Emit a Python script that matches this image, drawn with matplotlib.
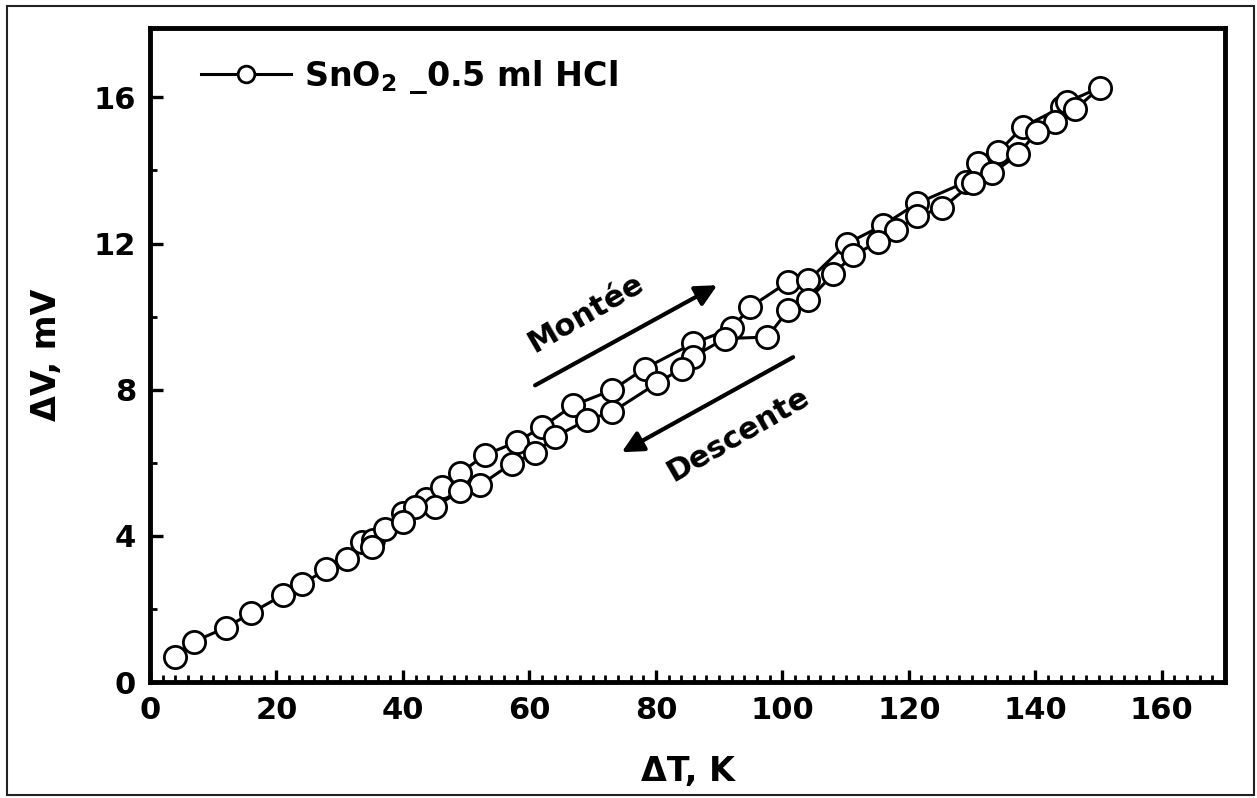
import matplotlib
matplotlib.use("Agg")
import matplotlib.pyplot as plt
import numpy as np
from matplotlib.patches import Rectangle
from matplotlib.ticker import MultipleLocator

# Heating branch (Montée)
up_T = [4.0, 6.9, 12.0, 15.9, 21.0, 24.0, 27.9, 31.1, 33.5, 35.3, 37.2, 40.0, 43.7,
        46.2, 49.0, 52.9, 58.0, 62.0, 66.9, 73.1, 78.2, 85.9, 92.0, 94.9, 100.9,
        104.1, 110.2, 115.9, 121.3, 129.1, 131.0, 134.1, 138.1, 144.2, 145.0, 150.2]
up_V = [0.69, 1.10, 1.49, 1.88, 2.38, 2.68, 3.08, 3.36, 3.84, 3.88, 4.18, 4.62, 5.02,
        5.34, 5.71, 6.21, 6.57, 6.98, 7.57, 7.99, 8.58, 9.27, 9.68, 10.26, 10.95,
        10.99, 12.00, 12.50, 13.10, 13.69, 14.20, 14.50, 15.20, 15.73, 15.87, 16.27]

# Cooling branch (Descente)
down_T = [146.3, 143.1, 140.2, 137.3, 133.2, 130.1, 125.2, 121.3, 118.0, 115.1, 111.2,
          108.0, 104.1, 100.9, 97.6, 90.9, 85.9, 84.1, 80.1, 73.1, 69.1, 64.0, 60.9,
          57.2, 52.2, 49.0, 45.1, 41.9, 40.0, 35.1]
down_V = [15.67, 15.34, 15.05, 14.44, 13.93, 13.66, 12.96, 12.76, 12.36, 12.04, 11.68,
          11.16, 10.45, 10.17, 9.44, 9.40, 8.90, 8.58, 8.17, 7.39, 7.17, 6.71, 6.26,
          5.98, 5.39, 5.22, 4.80, 4.80, 4.39, 3.70]

x_ticks = [0, 20, 40, 60, 80, 100, 120, 140, 160]
y_ticks = [0, 4, 8, 12, 16]
legend_label = "SnO$_\\mathbf{2}$ _0.5 ml HCl"

plt.rcParams['font.family'] = ['DejaVu Sans']
plt.rcParams['font.weight'] = 'bold'
plt.rcParams['mathtext.fontset'] = 'dejavusans'
plt.rcParams['mathtext.default'] = 'bf'

fig = plt.figure(figsize=(12.57, 7.98), dpi=100)
ax = fig.add_axes([150/1257, 1-682/798, (1225-150)/1257, (682-28)/798])

T = np.concatenate([up_T, down_T])
V = np.concatenate([up_V, down_V])
ax.plot(T, V, '-', color='black', lw=2.2, marker='o', ms=16, mfc='white',
        mec='black', mew=2.0, label=legend_label)

ax.set_xlim(0, 170)
ax.set_ylim(0, 17.9)
ax.set_xticks(x_ticks)
ax.set_yticks(y_ticks)
ax.xaxis.set_minor_locator(MultipleLocator(2))
ax.yaxis.set_minor_locator(MultipleLocator(2))
ax.tick_params(which='major', direction='in', length=9, width=2.4, labelsize=22, pad=10)
ax.tick_params(which='minor', direction='in', length=5, width=2.0)
for lab in ax.get_xticklabels() + ax.get_yticklabels():
    lab.set_fontweight('bold')
for s in ax.spines.values():
    s.set_linewidth(3.5)

ax.set_xlabel("ΔT, K", fontsize=24, fontweight='bold', labelpad=22)
ax.set_ylabel("ΔV, mV", fontsize=24, fontweight='bold', labelpad=22)

leg = ax.legend(loc='upper left', bbox_to_anchor=(0.035, 0.975), frameon=False,
                fontsize=24, handlelength=2.7, handletextpad=0.4, markerscale=0.75,
                borderaxespad=0)
for t in leg.get_texts():
    t.set_fontweight('bold')

# Direction arrows and labels
ax.annotate('', xy=(89.7, 10.86), xytext=(60.9, 8.12),
            arrowprops=dict(arrowstyle='-|>', lw=3, color='black', mutation_scale=32,
                            shrinkA=0, shrinkB=0))
ax.annotate('', xy=(74.6, 6.29), xytext=(101.7, 8.89),
            arrowprops=dict(arrowstyle='-|>', lw=3, color='black', mutation_scale=32,
                            shrinkA=0, shrinkB=0))
ax.text(68.9, 10.09, "Montée", fontsize=22, fontweight='bold', rotation=30,
        rotation_mode='anchor', ha='center', va='center')
ax.text(93.0, 6.76, "Descente", fontsize=22, fontweight='bold', rotation=30,
        rotation_mode='anchor', ha='center', va='center')

fig.patches.append(Rectangle((7/1257, 1-795/798), (1254-7)/1257, (795-6)/798,
                             transform=fig.transFigure, fill=False,
                             edgecolor='#222222', lw=1.5))

fig.savefig("out.png", dpi=100)
